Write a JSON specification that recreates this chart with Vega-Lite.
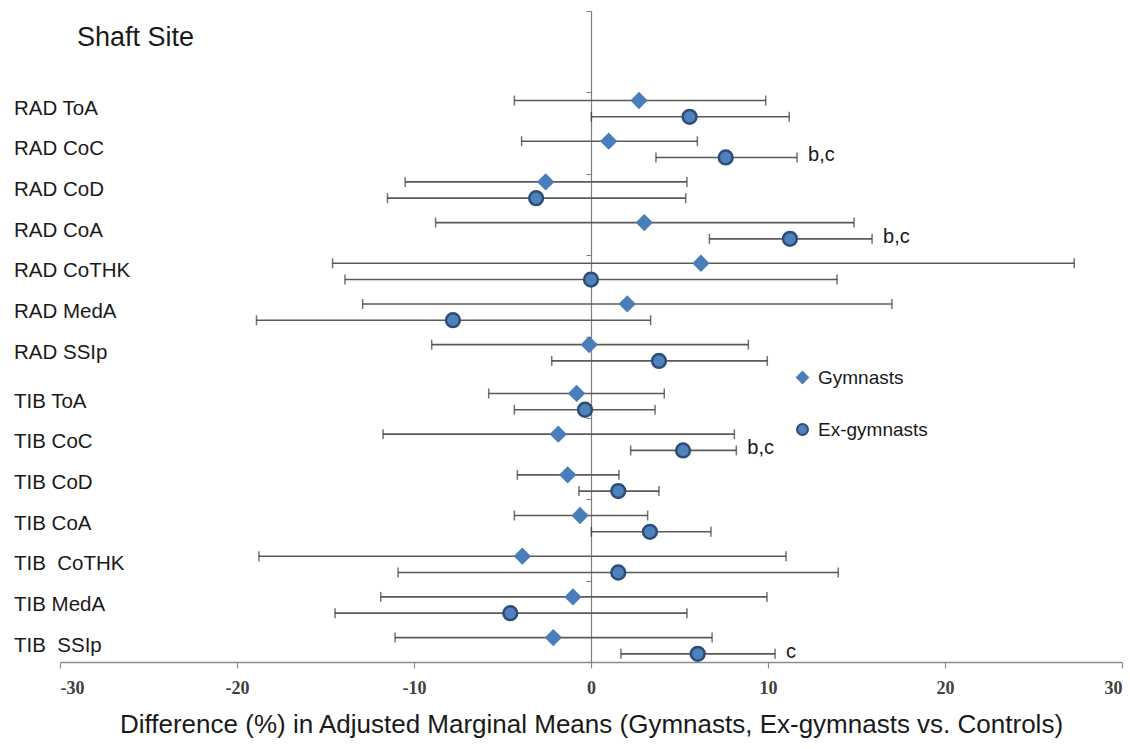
{
  "$schema": "https://vega.github.io/schema/vega-lite/v6.json",
  "width": 1062,
  "height": 651,
  "autosize": {"type": "none"},
  "padding": {"left": 60, "top": 11, "right": 8, "bottom": 87},
  "background": "white",
  "config": {"view": {"stroke": null}, "font": "Liberation Sans"},
  "title": {"text": "Shaft Site", "anchor": "start", "frame": "group", "baseline": "alphabetic", "offset": 0, "dx": 17, "dy": 62, "fontSize": 27, "fontWeight": "normal", "color": "#1a1a1a", "font": "Liberation Sans"},
  "data": {"values": [
    {"measure": "RAD ToA", "group": "Gymnasts", "y": 6.9, "est": 2.71, "lo": -4.33, "hi": 9.87, "note": ""},
    {"measure": "RAD ToA", "group": "Ex-gymnasts", "y": 6.7, "est": 5.57, "lo": 0.02, "hi": 11.2, "note": ""},
    {"measure": "RAD CoC", "group": "Gymnasts", "y": 6.4, "est": 1.0, "lo": -3.92, "hi": 6.01, "note": ""},
    {"measure": "RAD CoC", "group": "Ex-gymnasts", "y": 6.2, "est": 7.61, "lo": 3.67, "hi": 11.64, "note": "b,c"},
    {"measure": "RAD CoD", "group": "Gymnasts", "y": 5.9, "est": -2.56, "lo": -10.5, "hi": 5.42, "note": ""},
    {"measure": "RAD CoD", "group": "Ex-gymnasts", "y": 5.7, "est": -3.1, "lo": -11.5, "hi": 5.35, "note": ""},
    {"measure": "RAD CoA", "group": "Gymnasts", "y": 5.4, "est": 3.01, "lo": -8.78, "hi": 14.86, "note": ""},
    {"measure": "RAD CoA", "group": "Ex-gymnasts", "y": 5.2, "est": 11.24, "lo": 6.69, "hi": 15.88, "note": "b,c"},
    {"measure": "RAD CoTHK", "group": "Gymnasts", "y": 4.9, "est": 6.21, "lo": -14.6, "hi": 27.3, "note": ""},
    {"measure": "RAD CoTHK", "group": "Ex-gymnasts", "y": 4.7, "est": 0.0, "lo": -13.9, "hi": 13.9, "note": ""},
    {"measure": "RAD MedA", "group": "Gymnasts", "y": 4.4, "est": 2.05, "lo": -12.9, "hi": 17.0, "note": ""},
    {"measure": "RAD MedA", "group": "Ex-gymnasts", "y": 4.2, "est": -7.8, "lo": -18.9, "hi": 3.37, "note": ""},
    {"measure": "RAD SSIp", "group": "Gymnasts", "y": 3.9, "est": -0.1, "lo": -9.0, "hi": 8.89, "note": ""},
    {"measure": "RAD SSIp", "group": "Ex-gymnasts", "y": 3.7, "est": 3.84, "lo": -2.22, "hi": 9.96, "note": ""},
    {"measure": "TIB ToA", "group": "Gymnasts", "y": 3.3, "est": -0.81, "lo": -5.78, "hi": 4.14, "note": ""},
    {"measure": "TIB ToA", "group": "Ex-gymnasts", "y": 3.1, "est": -0.34, "lo": -4.33, "hi": 3.62, "note": ""},
    {"measure": "TIB CoC", "group": "Gymnasts", "y": 2.8, "est": -1.85, "lo": -11.75, "hi": 8.1, "note": ""},
    {"measure": "TIB CoC", "group": "Ex-gymnasts", "y": 2.6, "est": 5.2, "lo": 2.24, "hi": 8.21, "note": "b,c"},
    {"measure": "TIB CoD", "group": "Gymnasts", "y": 2.3, "est": -1.32, "lo": -4.16, "hi": 1.58, "note": ""},
    {"measure": "TIB CoD", "group": "Ex-gymnasts", "y": 2.1, "est": 1.54, "lo": -0.68, "hi": 3.84, "note": ""},
    {"measure": "TIB CoA", "group": "Gymnasts", "y": 1.8, "est": -0.62, "lo": -4.33, "hi": 3.2, "note": ""},
    {"measure": "TIB CoA", "group": "Ex-gymnasts", "y": 1.6, "est": 3.33, "lo": 0.02, "hi": 6.78, "note": ""},
    {"measure": "TIB \u00a0CoTHK", "group": "Gymnasts", "y": 1.3, "est": -3.88, "lo": -18.76, "hi": 11.02, "note": ""},
    {"measure": "TIB \u00a0CoTHK", "group": "Ex-gymnasts", "y": 1.1, "est": 1.54, "lo": -10.9, "hi": 13.97, "note": ""},
    {"measure": "TIB MedA", "group": "Gymnasts", "y": 0.8, "est": -1.02, "lo": -11.88, "hi": 9.94, "note": ""},
    {"measure": "TIB MedA", "group": "Ex-gymnasts", "y": 0.6, "est": -4.56, "lo": -14.46, "hi": 5.42, "note": ""},
    {"measure": "TIB \u00a0SSIp", "group": "Gymnasts", "y": 0.3, "est": -2.13, "lo": -11.07, "hi": 6.84, "note": ""},
    {"measure": "TIB \u00a0SSIp", "group": "Ex-gymnasts", "y": 0.1, "est": 6.03, "lo": 1.69, "hi": 10.4, "note": "c"}
  ]},
  "encoding": {
    "y": {"field": "y", "type": "quantitative",
      "scale": {"domain": [0, 8], "nice": false, "zero": false},
      "axis": {"orient": "left", "offset": -531, "values": [0, 1, 2, 3, 4, 5, 6, 7, 8], "labels": false, "title": null, "grid": false,
        "domainColor": "#7f7f7f", "domainWidth": 1.2, "tickColor": "#7f7f7f", "tickSize": 5, "tickWidth": 1}}
  },
  "layer": [
    {
      "mark": {"type": "rule", "color": "#5a5a5a", "strokeWidth": 1.6},
      "encoding": {
        "x": {"field": "lo", "type": "quantitative",
          "scale": {"domain": [-30, 30], "nice": false},
          "axis": {"values": [-30, -20, -10, 0, 10, 20, 30], "grid": false, "labelExpr": "toString(datum.value)",
            "title": "Difference (%) in Adjusted Marginal Means (Gymnasts, Ex-gymnasts vs. Controls)",
            "titleFont": "Liberation Sans", "titleFontSize": 26, "titleFontWeight": "normal", "titleColor": "#1a1a1a", "titlePadding": 14,
            "labelFont": "Liberation Serif", "labelFontSize": 18, "labelFontWeight": "bold", "labelColor": "#404040", "labelPadding": 11,
            "domainColor": "#8c8c8c", "domainWidth": 1.5, "tickColor": "#8c8c8c", "tickSize": 6, "tickWidth": 1.2}},
        "x2": {"field": "hi"}
      }
    },
    {
      "mark": {"type": "tick", "orient": "vertical", "color": "#383838", "size": 10, "thickness": 1.5},
      "encoding": {"x": {"field": "lo", "type": "quantitative"}}
    },
    {
      "mark": {"type": "tick", "orient": "vertical", "color": "#383838", "size": 10, "thickness": 1.5},
      "encoding": {"x": {"field": "hi", "type": "quantitative"}}
    },
    {
      "mark": {"type": "point", "filled": true, "size": 190, "strokeWidth": 2.5, "opacity": 1},
      "encoding": {
        "x": {"field": "est", "type": "quantitative"},
        "shape": {"field": "group", "type": "nominal", "scale": {"domain": ["Gymnasts", "Ex-gymnasts"], "range": ["diamond", "circle"]},
          "legend": {"orient": "none", "legendX": 733, "legendY": 357, "title": null, "labelFontSize": 19, "labelFont": "Liberation Sans", "labelColor": "#1a1a1a", "rowPadding": 32, "symbolSize": 120, "labelOffset": 6, "symbolStrokeWidth": 2}},
        "fill": {"field": "group", "type": "nominal", "scale": {"domain": ["Gymnasts", "Ex-gymnasts"], "range": ["#4a7ebb", "#4f81bd"]}, "legend": {"orient": "none", "legendX": 733, "legendY": 357, "title": null, "labelFontSize": 19, "labelFont": "Liberation Sans", "labelColor": "#1a1a1a", "rowPadding": 32, "symbolSize": 120, "labelOffset": 6, "symbolStrokeWidth": 2}},
        "stroke": {"field": "group", "type": "nominal", "scale": {"domain": ["Gymnasts", "Ex-gymnasts"], "range": ["#4a7ebb", "#2c4d75"]}, "legend": {"orient": "none", "legendX": 733, "legendY": 357, "title": null, "labelFontSize": 19, "labelFont": "Liberation Sans", "labelColor": "#1a1a1a", "rowPadding": 32, "symbolSize": 120, "labelOffset": 6, "symbolStrokeWidth": 2}}
      }
    },
    {
      "transform": [{"aggregate": [{"op": "mean", "field": "y", "as": "y"}], "groupby": ["measure"]}],
      "mark": {"type": "text", "align": "left", "baseline": "middle", "dx": -46, "fontSize": 20.5, "font": "Liberation Sans", "color": "#1a1a1a"},
      "encoding": {
        "x": {"datum": -30, "type": "quantitative"},
        "text": {"field": "measure"}
      }
    },
    {
      "transform": [{"filter": "datum.note != ''"}],
      "mark": {"type": "text", "align": "left", "baseline": "middle", "dx": 11, "dy": -2, "fontSize": 20, "font": "Liberation Sans", "color": "#1a1a1a"},
      "encoding": {
        "x": {"field": "hi", "type": "quantitative"},
        "text": {"field": "note"}
      }
    }
  ]
}
